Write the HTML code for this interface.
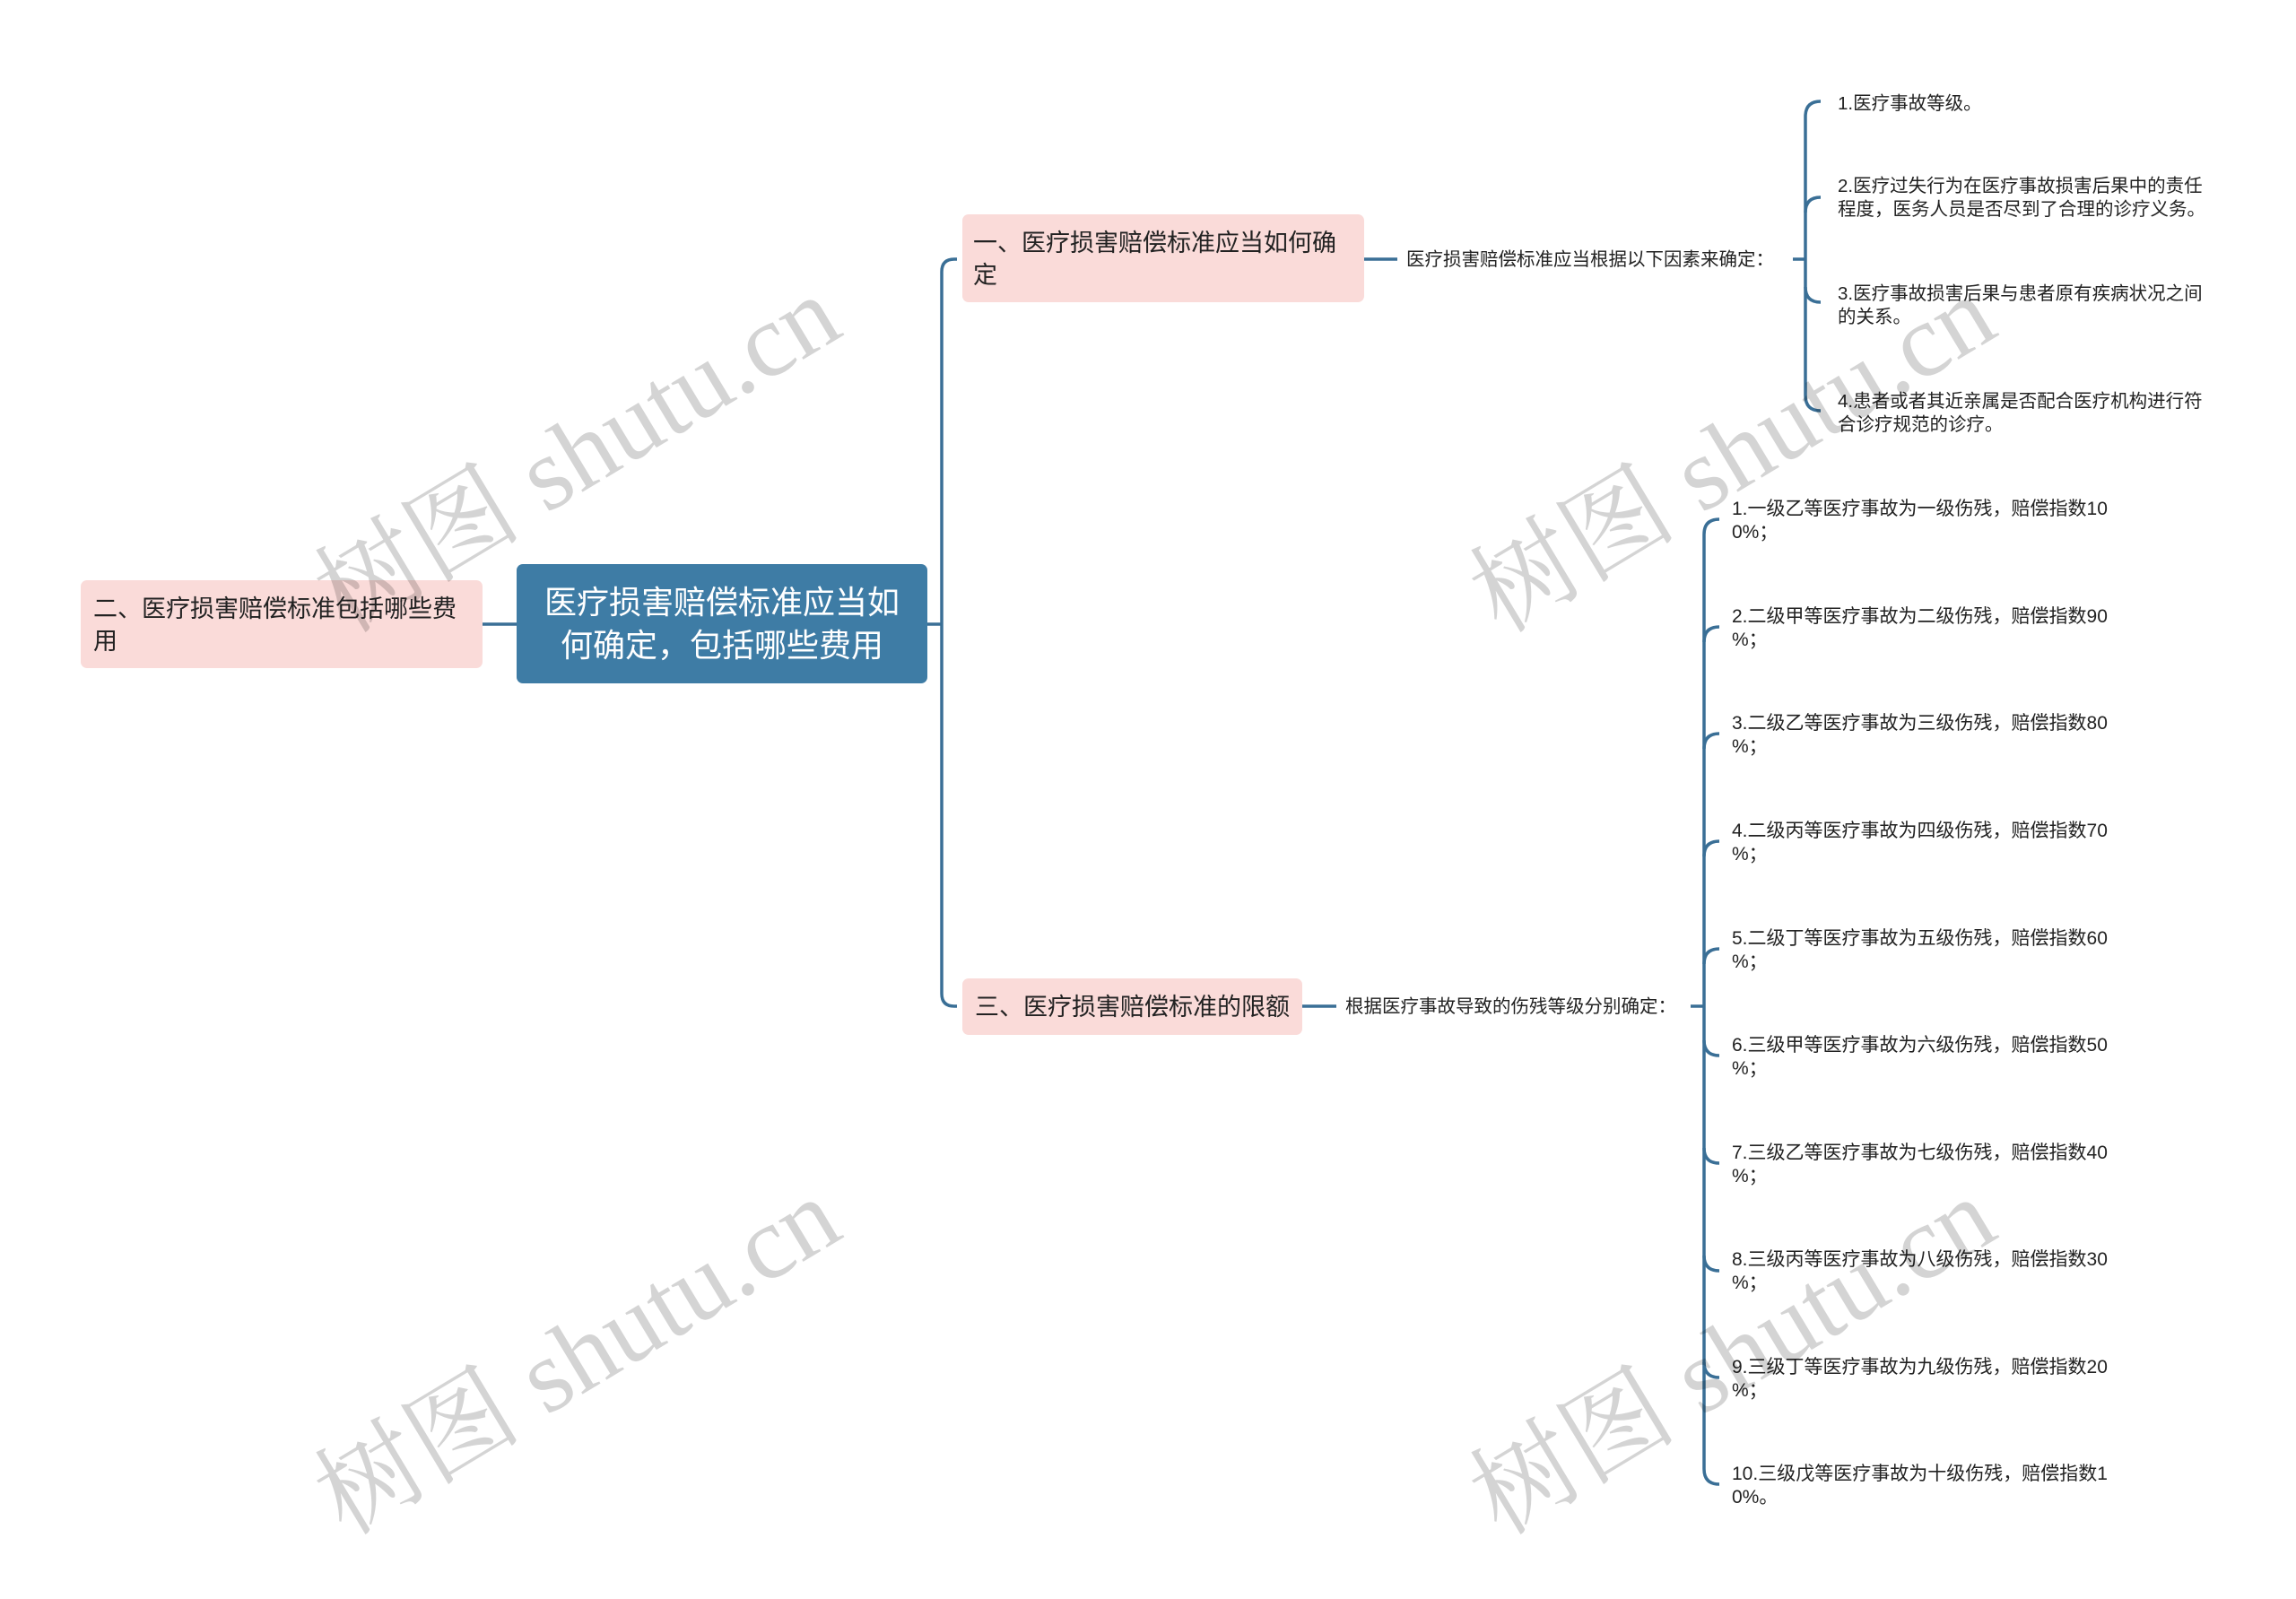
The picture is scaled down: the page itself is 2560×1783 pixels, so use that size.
<!DOCTYPE html>
<html><head><meta charset="utf-8"><style>
html,body{margin:0;padding:0;background:#fff;}
svg{display:block;}
.n{font-family:"Liberation Sans","Noto Sans CJK SC",sans-serif;}
</style></head><body>
<svg width="2560" height="1783" viewBox="0 0 2560 1783" xmlns="http://www.w3.org/2000/svg" class="n">
<g fill="none" stroke="#3a6f96" stroke-width="3.5">
<line x1="538" y1="696" x2="576" y2="696"/>
<line x1="1034" y1="696" x2="1050" y2="696"/>
<path d="M1067 289 H1064 Q1050 289 1050 303 V1108 Q1050 1122 1064 1122 H1067"/>
<line x1="1521" y1="289" x2="1558" y2="289"/>
<line x1="1999" y1="289" x2="2013" y2="289"/>
<path d="M2030 113 Q2013 113 2013 130 V441 Q2013 458 2030 458"/>
<path d="M2013 237 Q2013 220 2030 220"/>
<path d="M2013 320 Q2013 337 2030 337"/>
<line x1="1452" y1="1122" x2="1490" y2="1122"/>
<line x1="1885" y1="1122" x2="1900" y2="1122"/>
<path d="M1917 579 Q1900 579 1900 596 V1638 Q1900 1655 1917 1655"/>
<path d="M1900 716 Q1900 699 1917 699"/>
<path d="M1900 835 Q1900 818 1917 818"/>
<path d="M1900 955 Q1900 938 1917 938"/>
<path d="M1900 1075 Q1900 1058 1917 1058"/>
<path d="M1900 1160 Q1900 1177 1917 1177"/>
<path d="M1900 1280 Q1900 1297 1917 1297"/>
<path d="M1900 1400 Q1900 1417 1917 1417"/>
<path d="M1900 1519 Q1900 1536 1917 1536"/>
</g>
<rect x="576" y="629" width="458" height="133" rx="7" fill="#3e7ca5"/>
<text x="805" y="684" font-size="36" fill="#fff" text-anchor="middle">医疗损害赔偿标准应当如</text>
<text x="805" y="732" font-size="36" fill="#fff" text-anchor="middle">何确定，包括哪些费用</text>
<rect x="90" y="647" width="448" height="98" rx="7" fill="#fadbd9"/>
<text x="104" y="688" font-size="27" fill="#222">二、医疗损害赔偿标准包括哪些费</text>
<text x="104" y="724" font-size="27" fill="#222">用</text>
<rect x="1073" y="239" width="448" height="98" rx="7" fill="#fadbd9"/>
<text x="1085" y="280" font-size="27" fill="#222">一、医疗损害赔偿标准应当如何确</text>
<text x="1085" y="316" font-size="27" fill="#222">定</text>
<rect x="1073" y="1091" width="379" height="63" rx="7" fill="#fadbd9"/>
<text x="1087" y="1132" font-size="27" fill="#222">三、医疗损害赔偿标准的限额</text>
<g font-size="20.5" fill="#222">
<text x="1568" y="296">医疗损害赔偿标准应当根据以下因素来确定：</text>
<text x="1500" y="1129">根据医疗事故导致的伤残等级分别确定：</text>
<text x="2049" y="122">1.医疗事故等级。</text>
<text x="2049" y="214">2.医疗过失行为在医疗事故损害后果中的责任</text>
<text x="2049" y="240">程度，医务人员是否尽到了合理的诊疗义务。</text>
<text x="2049" y="334">3.医疗事故损害后果与患者原有疾病状况之间</text>
<text x="2049" y="360">的关系。</text>
<text x="2049" y="454">4.患者或者其近亲属是否配合医疗机构进行符</text>
<text x="2049" y="480">合诊疗规范的诊疗。</text>
</g>
<g font-size="21" fill="#222">
<text x="1931" y="574">1.一级乙等医疗事故为一级伤残，赔偿指数10</text><text x="1931" y="600">0%；</text>
<text x="1931" y="694">2.二级甲等医疗事故为二级伤残，赔偿指数90</text><text x="1931" y="720">%；</text>
<text x="1931" y="813">3.二级乙等医疗事故为三级伤残，赔偿指数80</text><text x="1931" y="839">%；</text>
<text x="1931" y="933">4.二级丙等医疗事故为四级伤残，赔偿指数70</text><text x="1931" y="959">%；</text>
<text x="1931" y="1053">5.二级丁等医疗事故为五级伤残，赔偿指数60</text><text x="1931" y="1079">%；</text>
<text x="1931" y="1172">6.三级甲等医疗事故为六级伤残，赔偿指数50</text><text x="1931" y="1198">%；</text>
<text x="1931" y="1292">7.三级乙等医疗事故为七级伤残，赔偿指数40</text><text x="1931" y="1318">%；</text>
<text x="1931" y="1411">8.三级丙等医疗事故为八级伤残，赔偿指数30</text><text x="1931" y="1437">%；</text>
<text x="1931" y="1531">9.三级丁等医疗事故为九级伤残，赔偿指数20</text><text x="1931" y="1557">%；</text>
<text x="1931" y="1650">10.三级戊等医疗事故为十级伤残，赔偿指数1</text><text x="1931" y="1676">0%。</text>
</g>
<g font-family="'Liberation Serif','Noto Serif CJK SC',serif" font-size="116" fill="#000" fill-opacity="0.17" text-anchor="middle">
<text transform="translate(664,540) rotate(-31)">树图 shutu.cn</text>
<text transform="translate(1952,540) rotate(-31)">树图 shutu.cn</text>
<text transform="translate(664,1546) rotate(-31)">树图 shutu.cn</text>
<text transform="translate(1952,1546) rotate(-31)">树图 shutu.cn</text>
</g>
</svg>
</body></html>
